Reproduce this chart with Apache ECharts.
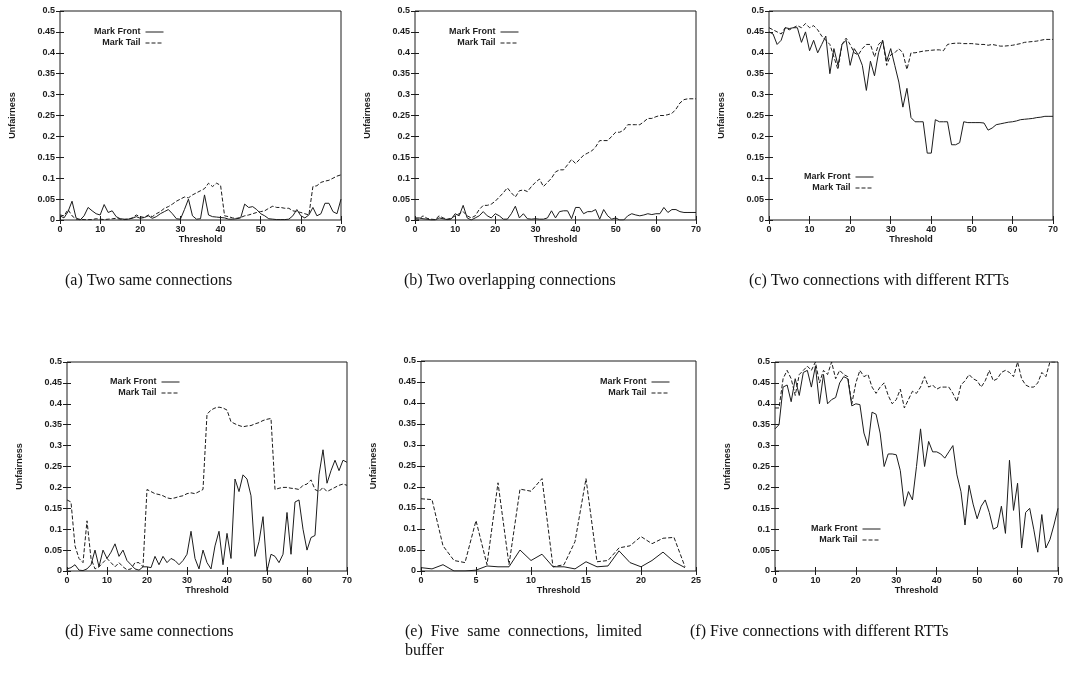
<!DOCTYPE html>
<html lang="en">
<head>
<meta charset="UTF-8">
<title>Unfairness vs Threshold</title>
<style>
  html, body { margin: 0; padding: 0; background: #fff; }
  #main { width: 1066px; height: 678px; }
</style>
<script src="https://cdn.jsdelivr.net/npm/echarts@6/dist/echarts.min.js"></script>
</head>
<body>
<div id="main"></div>
<script>
  // x values (threshold)
  var threshold70 = [0,1,2,3,4,5,6,7,8,9,10,11,12,13,14,15,16,17,18,19,20,21,22,23,24,25,26,27,28,29,30,
    31,32,33,34,35,36,37,38,39,40,41,42,43,44,45,46,47,48,49,50,51,52,53,54,55,56,57,58,59,60,
    61,62,63,64,65,66,67,68,69,70];
  var threshold25 = [0,1,2,3,4,5,6,7,8,9,10,11,12,13,14,15,16,17,18,19,20,21,22,23,24];

  // (a) two same connections
  var frontA = [0.01,0.005,0.02,0.045,0.005,0,0.01,0.03,0.022,0.015,0.012,0.037,0.018,0.022,0.008,0.003,
    0.002,0.002,0.004,0.008,0.004,0.006,0.01,0.004,0.008,0.015,0.02,0.025,0.015,0.003,0.002,0.025,0.05,
    0.01,0.002,0.003,0.06,0.012,0.008,0.007,0.006,0.005,0.002,0.002,0.003,0.005,0.038,0.03,0.032,0.025,
    0.015,0.01,0.003,0.002,0.001,0.001,0.001,0.002,0.01,0.025,0.01,0.005,0.012,0.03,0.01,0.015,0.04,
    0.04,0.02,0.015,0.05];
  var tailA = [0.012,0.01,0.025,0.01,0.002,0.002,0.001,0.001,0.001,0.003,0.002,0.001,0.002,0.003,0.004,
    0.002,0.001,0.002,0.005,0.012,0.008,0.006,0.012,0.008,0.015,0.02,0.028,0.032,0.038,0.045,0.05,0.055,
    0.053,0.06,0.065,0.07,0.075,0.088,0.08,0.088,0.083,0.01,0.008,0.005,0.004,0.006,0.01,0.012,0.015,
    0.018,0.02,0.022,0.028,0.033,0.03,0.03,0.028,0.028,0.022,0.02,0.018,0.015,0.012,0.08,0.082,0.09,
    0.093,0.095,0.1,0.105,0.108];

  // (b) two overlapping connections
  var frontB = [0.005,0.005,0.003,0.002,0,0,0.005,0.003,0.001,0.002,0.015,0.01,0.035,0.005,0,0.005,0.01,
    0.02,0.01,0.005,0.015,0.01,0.002,0.002,0.015,0.033,0.005,0.015,0.003,0.002,0.003,0.002,0.002,0.005,
    0.022,0.005,0.02,0.022,0.022,0.003,0.03,0.03,0.015,0.02,0.02,0.025,0.002,0.025,0.01,0.002,0.005,0,0,
    0.01,0.015,0.012,0.01,0.012,0.015,0.013,0.015,0.015,0.03,0.018,0.025,0.025,0.02,0.018,0.018,0.018,0.018];
  var tailB = [0.003,0.002,0.01,0.004,0.002,0.001,0.01,0.005,0.002,0.004,0.01,0.015,0.02,0.01,0.005,0.01,
    0.025,0.035,0.035,0.038,0.045,0.055,0.065,0.077,0.065,0.055,0.07,0.072,0.068,0.08,0.09,0.098,0.08,
    0.09,0.1,0.115,0.12,0.12,0.132,0.145,0.135,0.145,0.155,0.16,0.165,0.175,0.19,0.19,0.19,0.2,0.21,0.21,
    0.215,0.228,0.228,0.228,0.228,0.235,0.243,0.243,0.247,0.25,0.25,0.252,0.255,0.265,0.28,0.288,0.29,
    0.29,0.29];

  // (c) two connections with different RTTs
  var frontC = [0.45,0.445,0.42,0.43,0.46,0.458,0.46,0.46,0.425,0.45,0.405,0.43,0.4,0.42,0.44,0.35,0.41,
    0.37,0.42,0.43,0.37,0.41,0.395,0.37,0.31,0.38,0.345,0.4,0.43,0.38,0.41,0.37,0.33,0.27,0.315,0.245,
    0.235,0.235,0.235,0.16,0.16,0.24,0.235,0.235,0.235,0.18,0.18,0.185,0.235,0.233,0.233,0.233,0.233,
    0.232,0.215,0.22,0.228,0.23,0.232,0.234,0.235,0.237,0.24,0.241,0.242,0.243,0.245,0.246,0.248,0.248,0.248];
  var tailC = [0.46,0.455,0.45,0.445,0.46,0.455,0.46,0.465,0.46,0.47,0.46,0.465,0.455,0.44,0.43,0.42,0.39,
    0.36,0.42,0.435,0.42,0.4,0.395,0.41,0.42,0.42,0.39,0.42,0.43,0.37,0.395,0.4,0.41,0.4,0.36,0.4,0.4,
    0.402,0.404,0.405,0.406,0.407,0.407,0.405,0.42,0.422,0.423,0.423,0.422,0.422,0.422,0.421,0.42,0.42,
    0.418,0.42,0.418,0.416,0.416,0.417,0.418,0.42,0.422,0.425,0.426,0.427,0.428,0.43,0.432,0.432,0.432];

  // (d) five same connections
  var frontD = [0.005,0.008,0.015,0.002,0.001,0.005,0.015,0.05,0.01,0.05,0.03,0.045,0.065,0.035,0.05,
    0.025,0.015,0.005,0.002,0.01,0.01,0.008,0.035,0.015,0.035,0.02,0.03,0.025,0.015,0.025,0.04,0.095,0.03,
    0.005,0.05,0.02,0.005,0.06,0.095,0.015,0.09,0.03,0.22,0.19,0.23,0.22,0.18,0.035,0.07,0.13,0,0.04,0.035,
    0.02,0.04,0.14,0.04,0.165,0.17,0.1,0.05,0.08,0.085,0.23,0.29,0.21,0.24,0.265,0.24,0.265,0.26];
  var tailD = [0.17,0.165,0.06,0.03,0.02,0.12,0.03,0.005,0.01,0.02,0.03,0.02,0.01,0.02,0.01,0.003,0.005,
    0.02,0.02,0.01,0.195,0.19,0.185,0.183,0.18,0.175,0.173,0.175,0.178,0.18,0.185,0.187,0.185,0.19,0.195,
    0.375,0.385,0.39,0.392,0.39,0.385,0.357,0.352,0.348,0.345,0.347,0.348,0.352,0.355,0.36,0.363,0.365,
    0.195,0.198,0.2,0.2,0.198,0.197,0.195,0.205,0.208,0.218,0.195,0.19,0.2,0.19,0.195,0.2,0.205,0.208,0.205];

  // (e) five same connections, limited buffer
  var frontE = [0.008,0.005,0.015,0,0,0.002,0.012,0.01,0.01,0.05,0.025,0.04,0.01,0.01,0.005,0.022,0.01,
    0.012,0.048,0.02,0.01,0.025,0.045,0.022,0.008];
  var tailE = [0.172,0.17,0.06,0.025,0.02,0.12,0.015,0.21,0.015,0.195,0.19,0.22,0.01,0.015,0.07,0.22,
    0.022,0.025,0.055,0.06,0.082,0.065,0.078,0.08,0.01];

  // (f) five connections with different RTTs
  var frontF = [0.34,0.35,0.44,0.445,0.405,0.46,0.42,0.475,0.48,0.44,0.49,0.4,0.47,0.4,0.41,0.415,0.45,
    0.465,0.46,0.395,0.4,0.398,0.33,0.3,0.38,0.375,0.33,0.25,0.28,0.28,0.278,0.24,0.155,0.19,0.17,0.25,
    0.34,0.25,0.31,0.285,0.285,0.28,0.27,0.285,0.3,0.23,0.19,0.11,0.205,0.16,0.125,0.155,0.17,0.14,0.1,
    0.105,0.155,0.09,0.265,0.145,0.21,0.055,0.14,0.15,0.1,0.045,0.135,0.055,0.075,0.11,0.15];
  var tailF = [0.39,0.39,0.46,0.48,0.46,0.42,0.47,0.48,0.49,0.48,0.5,0.45,0.48,0.47,0.5,0.46,0.48,0.47,
    0.465,0.4,0.45,0.48,0.465,0.47,0.44,0.425,0.44,0.45,0.42,0.4,0.41,0.435,0.39,0.41,0.43,0.425,0.44,
    0.465,0.44,0.445,0.435,0.44,0.44,0.44,0.425,0.405,0.445,0.455,0.47,0.46,0.455,0.44,0.455,0.48,0.455,
    0.46,0.475,0.48,0.475,0.465,0.5,0.46,0.445,0.44,0.44,0.45,0.475,0.465,0.5,0.5,0.5];

  var seriesNames = ['Mark Front', 'Mark Tail'];

  var panels = [
    { x: threshold70, front: frontA, tail: tailA, xMax: 70, xStep: 10,
      grid: { left: 60, top: 11, width: 281, height: 209 }, legend: { right: 902, top: 27 },
      caption: ['(a) Two same connections'], capPos: [65, 273] },
    { x: threshold70, front: frontB, tail: tailB, xMax: 70, xStep: 10,
      grid: { left: 415, top: 11, width: 281, height: 209 }, legend: { right: 547, top: 27 },
      caption: ['(b) Two overlapping connections'], capPos: [404, 273] },
    { x: threshold70, front: frontC, tail: tailC, xMax: 70, xStep: 10,
      grid: { left: 769, top: 11, width: 284, height: 209 }, legend: { right: 192, top: 172 },
      caption: ['(c) Two connections with different RTTs'], capPos: [749, 273] },
    { x: threshold70, front: frontD, tail: tailD, xMax: 70, xStep: 10,
      grid: { left: 67, top: 362, width: 280, height: 209 }, legend: { right: 886, top: 377 },
      caption: ['(d) Five same connections'], capPos: [65, 624] },
    { x: threshold25, front: frontE, tail: tailE, xMax: 25, xStep: 5,
      grid: { left: 421, top: 361, width: 275, height: 210 }, legend: { right: 396, top: 377 },
      caption: ['(e)  Five  same  connections,  limited', 'buffer'], capPos: [405, 624] },
    { x: threshold70, front: frontF, tail: tailF, xMax: 70, xStep: 10,
      grid: { left: 775, top: 362, width: 284, height: 209 }, legend: { right: 185, top: 524 },
      caption: ['(f) Five connections with different RTTs'], capPos: [690, 624] }
  ];

  var ink = '#1c1c1c';
  var smallFont = { fontFamily: 'Liberation Sans', fontWeight: 'bold', fontSize: 9, color: ink };

  var option = {
    animation: false,
    backgroundColor: '#fff',
    color: [ink, ink],
    grid: [], xAxis: [], yAxis: [], series: [], legend: [], graphic: []
  };

  panels.forEach(function (p, i) {
    option.grid.push(Object.assign({ show: true, borderColor: ink, borderWidth: 1 }, p.grid));

    // bottom axis + mirrored top ticks
    option.xAxis.push({
      gridIndex: i, type: 'value', min: 0, max: p.xMax, interval: p.xStep,
      name: 'Threshold', nameLocation: 'middle', nameGap: 14, nameTextStyle: smallFont,
      axisLine: { show: false }, splitLine: { show: false },
      axisTick: { inside: true, length: 4, lineStyle: { color: ink } },
      axisLabel: Object.assign({ margin: 5 }, smallFont)
    });
    option.xAxis.push({
      gridIndex: i, type: 'value', position: 'top', min: 0, max: p.xMax, interval: p.xStep,
      axisLine: { show: false }, splitLine: { show: false }, axisLabel: { show: false },
      axisTick: { inside: true, length: 4, lineStyle: { color: ink } }
    });
    // left axis + mirrored right ticks
    option.yAxis.push({
      gridIndex: i, type: 'value', min: 0, max: 0.5, interval: 0.05,
      name: 'Unfairness', nameLocation: 'middle', nameGap: 43, nameRotate: 90, nameTextStyle: smallFont,
      axisLine: { show: false }, splitLine: { show: false },
      axisTick: { inside: true, length: 4, lineStyle: { color: ink } },
      axisLabel: Object.assign({ margin: 5 }, smallFont)
    });
    option.yAxis.push({
      gridIndex: i, type: 'value', position: 'right', min: 0, max: 0.5, interval: 0.05,
      axisLine: { show: false }, splitLine: { show: false }, axisLabel: { show: false },
      axisTick: { inside: true, length: 4, lineStyle: { color: ink } }
    });

    [p.front, p.tail].forEach(function (vals, s) {
      option.series.push({
        name: seriesNames[s], type: 'line', xAxisIndex: 2 * i, yAxisIndex: 2 * i,
        symbol: 'none', showSymbol: false, silent: true,
        itemStyle: { color: ink },
        lineStyle: { color: ink, width: 1, type: s === 0 ? 'solid' : [4, 2] },
        data: p.x.map(function (x, k) { return [x, vals[k]]; })
      });
    });

    option.legend.push({
      data: seriesNames, orient: 'vertical', align: 'right', selectedMode: false,
      right: p.legend.right, top: p.legend.top, padding: 0, itemGap: 1,
      itemWidth: 18, itemHeight: 8,
      itemStyle: { opacity: 0 },
      lineStyle: { width: 1 },
      textStyle: Object.assign({ padding: [0, 0, 0, 0], lineHeight: 10 }, smallFont)
    });

    p.caption.forEach(function (line, k) {
      option.graphic.push({
        type: 'text', left: p.capPos[0], top: p.capPos[1] + k * 19,
        style: { text: line, font: '16px "Liberation Serif"', fill: '#111' }
      });
    });
  });

  var myChart = echarts.init(document.getElementById('main'));
  myChart.setOption(option);
</script>
</body>
</html>
